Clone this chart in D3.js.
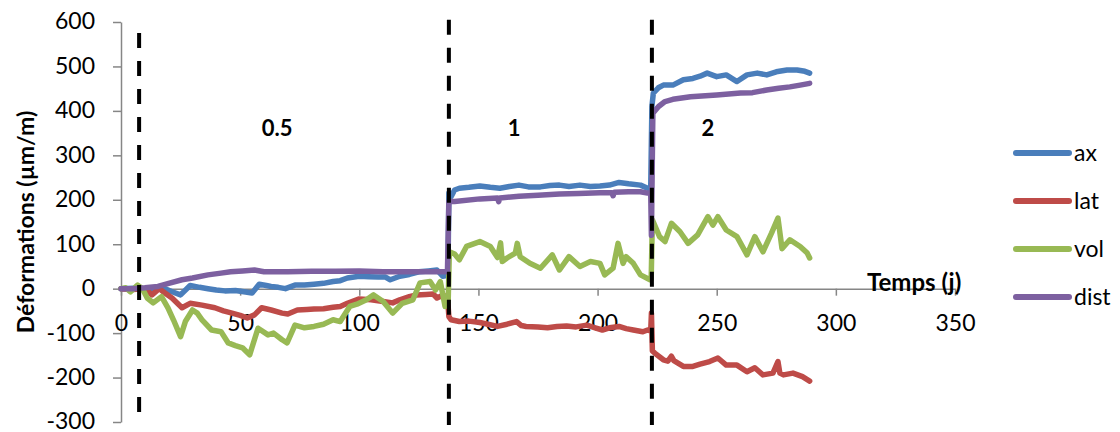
<!DOCTYPE html>
<html>
<head>
<meta charset="utf-8">
<script src="https://cdn.jsdelivr.net/npm/d3@7"></script>
<style>
html,body{margin:0;padding:0;background:#fff;}
svg{display:block;}
text{font-family:Lato,"Open Sans",sans-serif;fill:#000;}
</style>
</head>
<body>
<svg id="chart" width="1120" height="432"></svg>
<script>
// ---- data ----
const seriesNames = ["ax", "lat", "vol", "dist"];
const seriesColors = ["#4A7EBB", "#BE4B48", "#98B954", "#7D60A0"];

const ax = [[0,0],[5,1],[10,0],[15,1],[18.5,0],[22,-8],[25,-14],[29,7],[33,3],[36.5,0],[40,-3],[43.6,-5],[48,-4],[53,-8],[55,-10],[58,10],[61,7],[63,5],[66,3],[69,0],[73,8],[77,8],[81,10],[85,12],[89,16],[92,18],[95,24],[100,28],[104,27],[108,26],[111,26],[113,20],[117,28],[121,32],[125,38],[129,40],[132.6,42],[135,28],[137.2,30],[137.6,215],[138.5,207],[140,222],[142,226],[146,228],[150.6,231],[155,228],[159,226],[163,230],[167,233],[171,229],[176,229],[180,232],[184,233],[188,230],[192.6,233],[197,230],[201,231],[205,233],[209,239],[213,236],[218,233],[221,226],[222.3,226],[222.8,410],[223.4,440],[225.5,452],[227.6,458],[231.6,458],[236,470],[240,473],[243,478],[246,485],[250,477],[254,481],[258.5,466],[262.7,481],[267,485],[271,481],[275,488],[279.5,492],[283.7,492],[287,489],[289,485]];

const lat = [[0,0],[5,-2],[10,0],[13,-14],[16,0],[18,-8],[21.4,-21],[25.6,-43],[29,-33],[34,-37],[39.4,-43],[43,-50],[46.6,-55],[50,-60],[53,-66],[56,-59],[59,-43],[63,-48],[67.6,-55],[70,-57],[74,-48],[78,-47],[81,-46],[85,-45],[89,-42],[92,-40],[95,-33],[100,-23],[105,-25],[110,-29],[114,-32],[117,-25],[121,-18],[124,-14],[128,-13],[131,-12],[132.6,-21],[135,-15],[137,-18],[137.6,-63],[138.5,-70],[142,-74],[146,-73],[150.6,-76],[154,-80],[158,-85],[162,-80],[166,-74],[168,-83],[170,-85],[175,-86],[179,-88],[183,-85],[187,-84],[191,-86],[195.5,-82],[199,-88],[202,-93],[205,-88],[209,-85],[212,-90],[215,-93],[219,-97],[221,-93],[222.3,-95],[222.6,-55],[223,-140],[224,-145],[227.6,-160],[229.5,-163],[231,-152],[232,-162],[236,-175],[240,-175],[243,-170],[247,-164],[250.5,-156],[254,-172],[258.5,-172],[262.7,-187],[266,-178],[269.4,-194],[273.6,-190],[275.7,-164],[276.5,-190],[278,-194],[282,-190],[286,-198],[289,-208]];

const vol = [[0,0],[2,2],[4,-7],[7,8],[9,0],[11,-21],[13.5,-32],[17,-18],[19.7,-43],[22,-70],[25,-108],[27,-74],[30,-48],[32,-55],[34,-70],[38,-93],[42,-97],[45,-122],[48,-128],[51,-133],[54,-149],[57.5,-89],[61.7,-104],[64,-100],[67.6,-115],[69.7,-122],[73,-82],[77,-88],[81,-85],[85,-80],[89,-70],[92,-74],[96,-40],[99,-35],[103,-25],[106,-14],[110,-29],[114,-55],[118,-33],[122.5,-25],[125.5,13],[129.7,16],[132,-3],[134,16],[136,-40],[137.3,-30],[137.8,83],[140,78],[142,65],[145,95],[150.6,106],[155,95],[158,70],[159.3,103],[160,61],[162,69],[165.5,80],[166.3,102],[167.5,72],[171.6,57],[176,46],[181,76],[184,42],[188,72],[192.6,50],[197,61],[201,57],[203,31],[206.5,46],[208.6,102],[210.7,57],[212,72],[215,57],[218,31],[222,20],[222.5,22],[223,155],[226,117],[228.3,106],[231,147],[234.6,128],[238,102],[242,121],[246.3,162],[248.4,143],[250.5,162],[254,132],[258.5,117],[262.7,76],[266,117],[269.4,83],[273,125],[275.7,159],[277.4,90],[280.7,110],[285,95],[288,80],[289,69]];

const dist = [[0,0],[5,0],[10,2],[15.5,5],[20,12],[25.6,20],[30,24],[36.5,31],[42,35],[46,38],[51,40],[56,42],[60,38],[70,38],[80,39],[90,39],[100,40],[110,38],[120,38],[130,38],[137,38],[137.6,196],[140,196],[150.6,202],[158,204],[158.5,196],[159,204],[167,208],[175,210],[184,213],[192,214],[201,216],[206,216],[206.5,209],[207,217],[213,218],[218,218],[221,215],[222.3,215],[222.6,120],[223.2,395],[225.6,410],[228.3,421],[231.6,426],[239,432],[250,436],[260,440],[265,441],[271,447],[276,451],[280.7,454],[285,458],[289,462]];

const xTicks = [0, 50, 100, 150, 200, 250, 300, 350];
const yTicks = [-300, -200, -100, 0, 100, 200, 300, 400, 500, 600];

const phaseDays = [7.6, 137.6, 222.8];
const phaseTop = [575, 605, 605];
const phaseBottom = [-278, -307, -307];
const phaseLabels = ["0.5", "1", "2"];
const phaseLabelDays = [65.5, 165, 246.3];
const phaseLabelValue = 362;

const xTitle = "Temps (j)";
const yTitle = "Déformations (µm/m)";

// ---- drawing ----
const svg = d3.select("#chart");
const x = d3.scaleLinear().domain([0, 350]).range([121, 955]);
const y = d3.scaleLinear().domain([-300, 600]).range([422, 22]);
const axisColor = "#868686";

// y axis
const gy = svg.append("g").attr("transform", "translate(121,0)")
  .call(d3.axisLeft(y).tickValues(yTicks).tickSize(8).tickSizeOuter(0).tickPadding(18).tickFormat(d => String(d)));
// x axis at y=0
const gx = svg.append("g").attr("transform", `translate(0,${y(0)})`)
  .call(d3.axisBottom(x).tickValues(xTicks).tickSize(7).tickSizeOuter(0).tickPadding(19).tickFormat(d => String(d)));
[gx, gy].forEach(g => {
  g.select(".domain").attr("stroke", axisColor).attr("stroke-width", 1.5);
  g.selectAll(".tick line").attr("stroke", axisColor).attr("stroke-width", 1.5);
  g.selectAll(".tick text").attr("font-family", "Lato").attr("font-size", 23).attr("fill", "#000");
});
gy.selectAll(".tick text").attr("dy", "0.3em");

// series
const line = d3.line().x(d => x(d[0])).y(d => y(d[1]));
const allSeries = [ax, lat, vol, dist];
allSeries.forEach((s, i) => {
  svg.append("path").datum(s)
    .attr("d", line)
    .attr("fill", "none")
    .attr("stroke", seriesColors[i])
    .attr("stroke-width", 5.5)
    .attr("stroke-linejoin", "round")
    .attr("stroke-linecap", "round");
});

// phase dashed lines
phaseDays.forEach((d, i) => {
  svg.append("line")
    .attr("x1", x(d)).attr("x2", x(d))
    .attr("y1", y(phaseTop[i])).attr("y2", y(phaseBottom[i]))
    .attr("stroke", "#000").attr("stroke-width", 4)
    .attr("stroke-dasharray", "15,13");
});

// phase labels
phaseLabels.forEach((t, i) => {
  svg.append("text")
    .attr("x", x(phaseLabelDays[i])).attr("y", y(phaseLabelValue))
    .attr("text-anchor", "middle").attr("dominant-baseline", "central")
    .attr("font-size", 22).attr("font-weight", "bold")
    .text(t);
});

// x title
svg.append("text").attr("x", 867).attr("y", 291)
  .attr("font-size", 24).attr("font-weight", "bold").text(xTitle);

// y title
svg.append("text")
  .attr("transform", "translate(25,222) rotate(-90)")
  .attr("text-anchor", "middle").attr("dominant-baseline", "central")
  .attr("font-size", 23).attr("font-weight", "bold").text(yTitle);

// legend
const legend = svg.append("g");
seriesNames.forEach((n, i) => {
  const ly = 153 + i * 48;
  legend.append("line").attr("x1", 1016).attr("x2", 1069).attr("y1", ly).attr("y2", ly)
    .attr("stroke", seriesColors[i]).attr("stroke-width", 6).attr("stroke-linecap", "round");
  legend.append("text").attr("x", 1074).attr("y", ly + 8).attr("font-size", 23).text(n);
});
</script>
</body>
</html>
